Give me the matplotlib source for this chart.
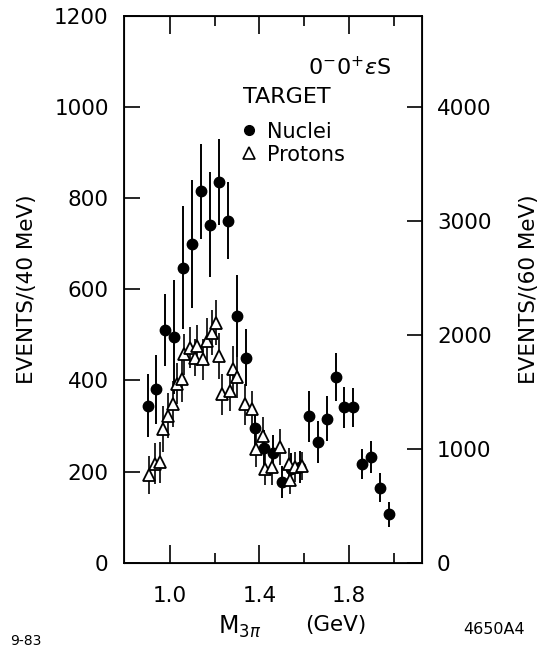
import numpy as np
import matplotlib
matplotlib.use("Agg")
import matplotlib.pyplot as plt
from matplotlib.lines import Line2D

plt.rcParams['font.family'] = ['DejaVu Sans']

# nuclei target (filled circles), events / 40 MeV
nuc_m = [0.90, 0.94, 0.98, 1.02, 1.06, 1.10, 1.14, 1.18, 1.22, 1.26, 1.30, 1.34, 1.38, 1.42,
         1.46, 1.50, 1.54, 1.58, 1.62, 1.66, 1.70, 1.74, 1.78, 1.82, 1.86, 1.90, 1.94, 1.98]
nuc_n = [345, 381, 511, 496, 647, 699, 815, 742, 836, 751, 541, 450, 295, 252,
         240, 177, 205, 210, 321, 265, 316, 408, 341, 341, 216, 232, 165, 106]
nuc_err = [70, 76, 79, 125, 135, 140, 105, 115, 95, 85, 90, 62, 43, 40,
           40, 35, 35, 35, 55, 47, 49, 52, 45, 43, 33, 35, 31, 27]

# proton target (open triangles)
pro_m = [0.907, 0.933, 0.955, 0.970, 0.993, 1.012, 1.033, 1.052, 1.063, 1.092, 1.112, 1.119,
         1.149, 1.167, 1.190, 1.208, 1.219, 1.235, 1.268, 1.283, 1.298, 1.335, 1.365, 1.384,
         1.414, 1.424, 1.454, 1.491, 1.533, 1.536, 1.560, 1.592]
pro_n = [192, 217, 221, 294, 323, 348, 393, 403, 458, 472, 450, 476,
         447, 487, 505, 527, 454, 370, 377, 425, 407, 348, 337, 250,
         279, 206, 210, 254, 217, 181, 210, 212]
pro_err = [42, 45, 45, 50, 50, 50, 45, 50, 45, 45, 40, 45,
           45, 50, 50, 50, 50, 45, 45, 50, 45, 45, 40, 40,
           40, 35, 40, 40, 35, 30, 32, 30]

fig = plt.figure(figsize=(5.41, 6.48), dpi=100)
ax = fig.add_axes([0.2292, 0.1316, 0.5503, 0.8437])

ax.errorbar(pro_m, pro_n, yerr=pro_err, fmt='^', ms=9, mfc='white', mec='black',
            mew=1.3, ecolor='black', elinewidth=1.2, capsize=0, zorder=4)
ax.errorbar(nuc_m, nuc_n, yerr=nuc_err, fmt='o', ms=7.5, color='black',
            elinewidth=1.4, capsize=0, zorder=3)

ax.set_xlim(0.795, 2.125)
ax.set_ylim(0, 1200)
ax.set_xticks([1.0, 1.4, 1.8])
ax.set_xticklabels(['1.0', '1.4', '1.8'])
ax.set_xticks([1.2, 1.6, 2.0], minor=True)
ax.set_yticks(np.arange(0, 1201, 200))
ax.tick_params(axis='both', which='major', direction='in', width=1.2, labelsize=15.5)
ax.tick_params(axis='x', which='major', length=13, pad=17, top=True)
ax.tick_params(axis='x', which='minor', length=7, width=1.2, direction='in', top=True)
ax.tick_params(axis='y', which='major', length=11.5, pad=11)
for s in ax.spines.values():
    s.set_linewidth(1.3)

ax2 = ax.twinx()
ax2.set_ylim(0, 4800)
ax2.set_yticks([0, 1000, 2000, 3000, 4000])
ax2.tick_params(axis='y', direction='in', length=11, width=1.2, pad=11, labelsize=15.5)

ax.set_ylabel('EVENTS/(40 MeV)', fontsize=15.5, labelpad=12)
ax2.set_ylabel('EVENTS/(60 MeV)', fontsize=15.5, labelpad=20)

# key
ax.text(0.895, 0.905, r'$\mathrm{0^{-}0^{+}}\epsilon\mathrm{S}$', transform=ax.transAxes,
        ha='right', va='center', fontsize=16)
ax.text(0.4, 0.852, 'TARGET', transform=ax.transAxes, ha='left', va='center', fontsize=16)
handles = [Line2D([], [], ls='none', marker='o', ms=7, color='black'),
           Line2D([], [], ls='none', marker='^', ms=8, mfc='white', mec='black', mew=1.2)]
leg = ax.legend(handles, ['Nuclei', 'Protons'], loc='upper left',
                bbox_to_anchor=(0.358, 0.826), frameon=False, fontsize=15,
                handlelength=0.8, handletextpad=0.45, labelspacing=0.15, borderpad=0)

# axis title and plate numbers
fig.text(240 / 541, 1 - 627 / 648, r'$\mathrm{M}_{3\pi}$', ha='center', va='center', fontsize=17)
fig.text(336 / 541, 1 - 625 / 648, '(GeV)', ha='center', va='center', fontsize=15.5)
fig.text(26 / 541, 1 - 641 / 648, '9-83', ha='center', va='center', fontsize=10)
fig.text(494 / 541, 1 - 629 / 648, '4650A4', ha='center', va='center', fontsize=11.5)

fig.savefig('out.png', dpi=100)
